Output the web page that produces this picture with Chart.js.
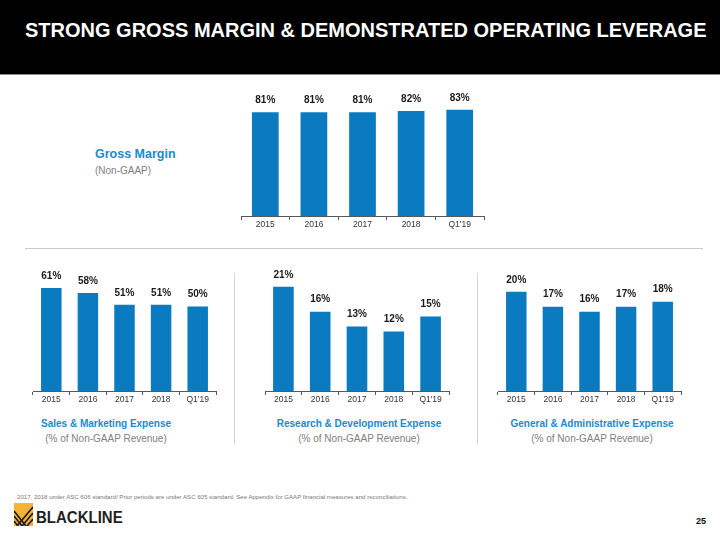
<!DOCTYPE html>
<html>
<head>
<meta charset="utf-8">
<script src="https://cdn.jsdelivr.net/npm/chart.js@4.4.1/dist/chart.umd.min.js"></script>
<style>
  body { margin: 0; background: #fff; font-family: "Liberation Sans", Arial, sans-serif; }
  #slide { position: relative; width: 720px; height: 540px; overflow: hidden; background: #fff; }
  .abs { position: absolute; white-space: nowrap; }
  .header { left: 0; top: 0; width: 720px; height: 74px; background: #000; border-bottom: 1px solid #8a8a8a; }
  .title { left: 25px; top: 18px; color: #fff; font-weight: bold; font-size: 20px; line-height: 24px; }
  .blue { color: #1b8ad0; font-weight: bold; font-size: 10px; }
  .grey { color: #808080; font-size: 10px; }
  .cap { transform: translateX(-50%); text-align: center; }
  canvas { position: absolute; }
</style>
</head>
<body>
<div id="slide">
  <div class="abs header"></div>
  <div class="abs title">STRONG GROSS MARGIN &amp; DEMONSTRATED OPERATING LEVERAGE</div>

  <div class="abs blue" style="left:95px;top:147px;font-size:12.5px">Gross Margin</div>
  <div class="abs grey" style="left:95px;top:165px">(Non-GAAP)</div>

  <div class="abs" style="left:25px;top:248px;width:678px;height:0;border-top:1.5px solid #c8c8c8"></div>
  <div class="abs" style="left:234px;top:273px;width:0;height:172px;border-left:1.5px solid #d4d4d4"></div>
  <div class="abs" style="left:477px;top:273px;width:0;height:172px;border-left:1.5px solid #d4d4d4"></div>

  <canvas id="gm" width="263" height="160" style="left:231px;top:80px"></canvas>
  <canvas id="sm" width="203" height="153" style="left:23px;top:262px"></canvas>
  <canvas id="rd" width="204" height="153" style="left:255px;top:262px"></canvas>
  <canvas id="ga" width="203" height="153" style="left:488px;top:262px"></canvas>

  <div class="abs blue cap" style="left:106px;top:418px">Sales &amp; Marketing Expense</div>
  <div class="abs grey cap" style="left:106px;top:433px">(% of Non-GAAP Revenue)</div>
  <div class="abs blue cap" style="left:359px;top:418px">Research &amp; Development Expense</div>
  <div class="abs grey cap" style="left:359px;top:433px">(% of Non-GAAP Revenue)</div>
  <div class="abs blue cap" style="left:592px;top:418px">General &amp; Administrative Expense</div>
  <div class="abs grey cap" style="left:592px;top:433px">(% of Non-GAAP Revenue)</div>

  <div class="abs" style="left:17px;top:493px;font-size:6.1px;color:#7a7a7a">2017, 2018 under ASC 606 standard/ Prior periods are under ASC 605 standard. See Appendix for GAAP financial measures and reconciliations.</div>

  <svg class="abs" style="left:14px;top:503px" width="19" height="23" viewBox="0 0 19 23">
    <rect x="0" y="0" width="19" height="23" fill="#f6b335"/>
    <g stroke="#1a1a1a" stroke-width="1.6" fill="none">
      <path d="M0 13 L8 23"/>
      <path d="M0 18 L4 23"/>
      <path d="M3 23 L19 4"/>
      <path d="M8 23 L19 10"/>
      <path d="M13 23 L19 16"/>
      <path d="M0 8 L12 23"/>
    </g>
  </svg>
  <div class="abs" style="left:36px;top:507px;font-size:15px;font-weight:bold;color:#231f20;line-height:18px;transform:scaleY(1.12);transform-origin:left top">BLACKLINE</div>

  <div class="abs" style="left:696px;top:516px;font-size:9px;font-weight:bold;color:#111">25</div>
</div>

<script>
const categories = ['2015', '2016', '2017', '2018', "Q1'19"];
const grossMargin = [81, 81, 81, 82, 83];
const salesMarketing = [61, 58, 51, 51, 50];
const researchDev = [21, 16, 13, 12, 15];
const generalAdmin = [20, 17, 16, 17, 18];

const BAR = '#0a7bc0';
const AXIS = '#595959';

Chart.defaults.font.family = '"Liberation Sans", Arial, sans-serif';

// draws the % value above every bar
const valueLabels = {
  id: 'valueLabels',
  afterDatasetsDraw(chart) {
    const ctx = chart.ctx;
    const ds = chart.data.datasets[0];
    ctx.save();
    ctx.font = 'bold 10px "Liberation Sans", Arial, sans-serif';
    ctx.fillStyle = '#1a1a1a';
    ctx.textAlign = 'center';
    ctx.textBaseline = 'middle';
    chart.getDatasetMeta(0).data.forEach((bar, i) => {
      ctx.fillText(ds.data[i] + '%', bar.x, bar.y - 12);
    });
    ctx.restore();
  },
};

function barChart(id, values, yMax, padTop, barPct) {
  return new Chart(document.getElementById(id), {
    type: 'bar',
    data: {
      labels: categories,
      datasets: [{
        data: values,
        backgroundColor: BAR,
        borderWidth: 0,
        categoryPercentage: 1,
        barPercentage: barPct,
      }],
    },
    options: {
      responsive: false,
      animation: false,
      layout: { padding: { left: 10, right: 10, top: padTop, bottom: 0 } },
      scales: {
        x: {
          grid: { display: true, drawOnChartArea: false, drawTicks: true, tickLength: 4, color: AXIS, offset: true },
          border: { display: true, color: AXIS, width: 1 },
          ticks: { color: '#333', padding: 0, font: { size: 8.5 }, maxRotation: 0, autoSkip: false },
          afterFit: s => { s.height = 24; },
        },
        y: { display: false, min: 0, max: yMax },
      },
      plugins: { legend: { display: false }, tooltip: { enabled: false } },
    },
    plugins: [valueLabels],
  });
}

barChart('gm', grossMargin, 100, 8, 0.55);
barChart('sm', salesMarketing, 71, 9, 0.56);
barChart('rd', researchDev, 24.2, 9, 0.56);
barChart('ga', generalAdmin, 24.2, 9, 0.56);
</script>
</body>
</html>
